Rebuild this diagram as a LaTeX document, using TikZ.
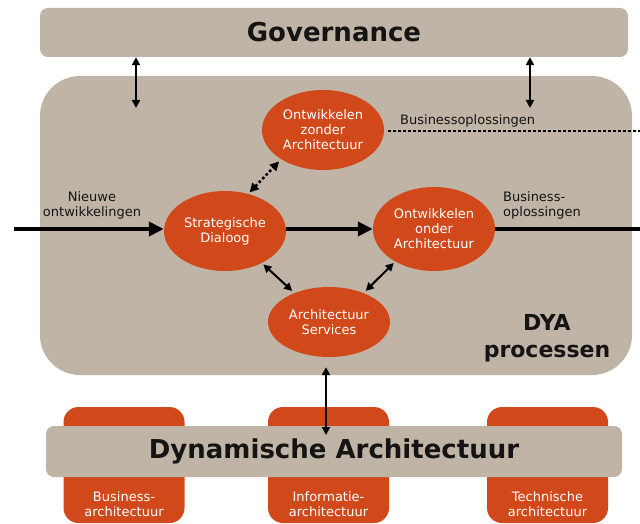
\documentclass[tikz,border=0pt]{standalone}
\usepackage{fontspec}
\setmainfont{DejaVu Sans}
\usetikzlibrary{arrows.meta,shapes.geometric}
\definecolor{beige}{RGB}{191,180,166}
\definecolor{dyaorange}{RGB}{209,73,27}
\definecolor{ink}{RGB}{20,20,20}
\begin{document}
\begin{tikzpicture}[x=1pt,y=-1pt,
  graybox/.style={fill=beige, rounded corners=8pt, inner sep=0pt, text=ink, font=\fontsize{26}{30}\selectfont\bfseries},
  ell/.style={ellipse, fill=dyaorange, text=white, inner sep=0pt, align=center, minimum width=122pt, minimum height=80pt, font=\fontsize{13}{15}\selectfont},
  orbox/.style={fill=dyaorange, rounded corners=15pt, inner sep=0pt, minimum width=121pt, minimum height=116pt},
  ortext/.style={text=white, align=center, font=\fontsize{13}{15}\selectfont},
  lbl/.style={font=\fontsize{13}{15}\selectfont, text=ink, inner sep=0pt},
  flow/.style={line width=4pt, -{Triangle[length=15pt,width=14pt]}},
  flowline/.style={line width=4pt},
  dbl/.style={line width=2pt, {Triangle[length=8pt,width=8pt]}-{Triangle[length=8pt,width=8pt]}},
  dotline/.style={line width=2.6pt, dash pattern=on 2.6pt off 2.4pt},
  dotdbl/.style={line width=2.6pt, dash pattern=on 2.6pt off 2.4pt, {Triangle[length=9pt,width=9pt]}-{Triangle[length=9pt,width=9pt]}},
]
\useasboundingbox (0,0) rectangle (640,524);
\fill[white] (0,0) rectangle (640,524);

% governance
\node[graybox, minimum width=588pt, minimum height=49pt] (gov) at (334,32.5) {Governance};

% DYA process area
\node[fill=beige, rounded corners=40pt, inner sep=0pt, minimum width=592pt, minimum height=299pt] (dya) at (336,225.5) {};
\node[text=ink, font=\fontsize{22}{27}\selectfont\bfseries, align=center] (dyat) at (547,338) {DYA\\processen};

% ellipses
\node[ell] (oz) at (323,130) {Ontwikkelen\\zonder\\Architectuur};
\node[ell] (sd) at (225,231) {Strategische\\Dialoog};
\node[ell, minimum height=84pt] (oo) at (434,229) {Ontwikkelen\\onder\\Architectuur};
\node[ell, minimum height=70pt] (as) at (329,322) {Architectuur\\Services};

% bottom boxes
\node[orbox] (ba) at (124,465) {};
\node[orbox] (ia) at (328.5,465) {};
\node[orbox] (ta) at (547.5,465) {};
\node[ortext] (bat) at (124,504.5) {Business-\\architectuur};
\node[ortext] (iat) at (328.5,504.5) {Informatie-\\architectuur};
\node[ortext] (tat) at (547.5,504.5) {Technische\\architectuur};
\node[graybox, minimum width=576pt, minimum height=51pt] (da) at (334,451.5) {Dynamische Architectuur};

% governance arrows
\coordinate (g1) at (136,108);
\coordinate (g2) at (530,108);
\draw[dbl] (gov.south -| g1) -- (g1);
\draw[dbl] (gov.south -| g2) -- (g2);

% main flow
\coordinate (in) at (14,229);
\coordinate (out) at (640,229);
\draw[flow] (in) -- (in -| sd.west);
\draw[flow] (sd.east |- in) -- (in -| oo.west);
\draw[flowline] (oo.east |- in) -- (out);
\node[lbl, align=center] (nl) at (92,205) {Nieuwe\\ontwikkelingen};
\node[lbl, align=left, anchor=west] (bl) at (503,205.5) {Business-\\oplossingen};

% dotted business line
\coordinate (dout) at (640,131);
\draw[dotline] (oz.east |- dout) ++(4,0) -- (dout);
\node[lbl, anchor=west] (bo) at (400,121) {Businessoplossingen};

% connectors between ellipses
\draw[dotdbl, shorten <=2pt, shorten >=3pt] (sd.58) -- (oz.215);
\draw[dbl, shorten <=2pt, shorten >=3pt] (sd.-41) -- (as.140);
\draw[dbl, shorten <=2pt, shorten >=3pt] (oo.220) -- (as.40);
\coordinate (dat) at (326,435);
\draw[dbl] (as.south -| dat) ++(0,10) -- (dat);
\end{tikzpicture}
\end{document}
